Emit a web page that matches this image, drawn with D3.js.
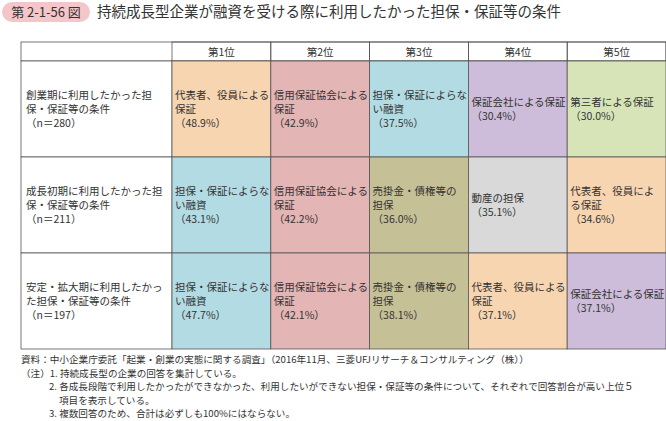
<!DOCTYPE html>
<html><head><meta charset="utf-8">
<script src="https://cdn.jsdelivr.net/npm/d3@7"></script>
<style>body{margin:0;background:#fff;font-family:"Noto Sans CJK JP",sans-serif;}</style>
</head><body><svg id="c" width="666" height="421"></svg>
<script>
const ranks = ["第1位","第2位","第3位","第4位","第5位"];
const stages = [["創業期に利用したかった担","保・保証等の条件","（n＝280）"],
                ["成長初期に利用したかった担","保・保証等の条件","（n＝211）"],
                ["安定・拡大期に利用したかっ","た担保・保証等の条件","（n＝197）"]];
const items = [
 [["代表者、役員による","保証"],["信用保証協会による","保証"],["担保・保証によらな","い融資"],["保証会社による保証"],["第三者による保証"]],
 [["担保・保証によらな","い融資"],["信用保証協会による","保証"],["売掛金・債権等の","担保"],["動産の担保"],["代表者、役員によ","る保証"]],
 [["担保・保証によらな","い融資"],["信用保証協会による","保証"],["売掛金・債権等の","担保"],["代表者、役員による","保証"],["保証会社による保証"]]
];
const values = [[48.9,42.9,37.5,30.4,30.0],[43.1,42.2,36.0,35.1,34.6],[47.7,42.1,38.1,37.1,37.1]];
const kinds = [["代表","信用","担保","会社","第三"],["担保","信用","売掛","動産","代表"],["担保","信用","売掛","代表","会社"]];
const colorMap = {"代表":"#f8d5b1","信用":"#e4b5b5","担保":"#b3dbe3","会社":"#cdbdda","第三":"#d6e4b8","売掛":"#c6c096","動産":"#d9d9d9"};

const svg = d3.select("#c");
// title
svg.append("rect").attr("x",2).attr("y",2).attr("width",88).attr("height",20).attr("rx",10).attr("fill","#f5c6c9");
svg.append("text").attr("x",46).attr("y",17).attr("text-anchor","middle").attr("font-size",13).attr("fill","#333").text("第 2-1-56 図");
svg.append("text").attr("x",97).attr("y",17).attr("font-size",14.5).attr("fill","#333").text("持続成長型企業が融資を受ける際に利用したかった担保・保証等の条件");

const x = d3.scaleBand().domain(ranks).range([172,666]);
const y = d3.scaleBand().domain(d3.range(3)).range([61,349]);
const g = svg.append("g").attr("font-size",10.5).attr("fill","#333");
// header
g.append("rect").attr("x",21).attr("y",42).attr("width",645).attr("height",19).attr("fill","#fff").attr("stroke","#555").attr("stroke-width",0.8);
ranks.forEach(r=>{
  g.append("rect").attr("x",x(r)).attr("y",42).attr("width",x.bandwidth()).attr("height",19).attr("fill","none").attr("stroke","#555").attr("stroke-width",0.8);
  g.append("text").attr("x",x(r)+x.bandwidth()/2).attr("y",56).attr("text-anchor","middle").text(r);
});
const lh=14;
stages.forEach((s,i)=>{
  const yy=y(i), h=y.bandwidth();
  g.append("rect").attr("x",21).attr("y",yy).attr("width",151).attr("height",h).attr("fill","#fff").attr("stroke","#555").attr("stroke-width",0.8);
  const t0 = yy+h/2-(s.length-1)*lh/2+4;
  s.forEach((line,k)=>g.append("text").attr("x",26).attr("y",t0+k*lh).text(line));
  ranks.forEach((r,j)=>{
    g.append("rect").attr("x",x(r)).attr("y",yy).attr("width",x.bandwidth()).attr("height",h)
      .attr("fill",colorMap[kinds[i][j]]).attr("stroke","#555").attr("stroke-width",0.8);
    const lines = items[i][j].concat(["（"+values[i][j].toFixed(1)+"%）"]);
    const s0 = yy+h/2-(lines.length-1)*lh/2+4;
    lines.forEach((line,k)=>g.append("text").attr("x",x(r)+3).attr("y",s0+k*lh).text(line));
  });
});
// notes
const notes = [[21,"資料：中小企業庁委託「起業・創業の実態に関する調査」（2016年11月、三菱UFJリサーチ＆コンサルティング（株））"],
 [21,"（注）1. 持続成長型の企業の回答を集計している。"],
 [49,"2. 各成長段階で利用したかったができなかった、利用したいができない担保・保証等の条件について、それぞれで回答割合が高い上位５"],
 [59,"項目を表示している。"],
 [49,"3. 複数回答のため、合計は必ずしも100%にはならない。"]];
notes.forEach((n,k)=>svg.append("text").attr("x",n[0]).attr("y",363+k*13.5).attr("font-size",9.6).attr("fill","#333").text(n[1]));
</script></body></html>
